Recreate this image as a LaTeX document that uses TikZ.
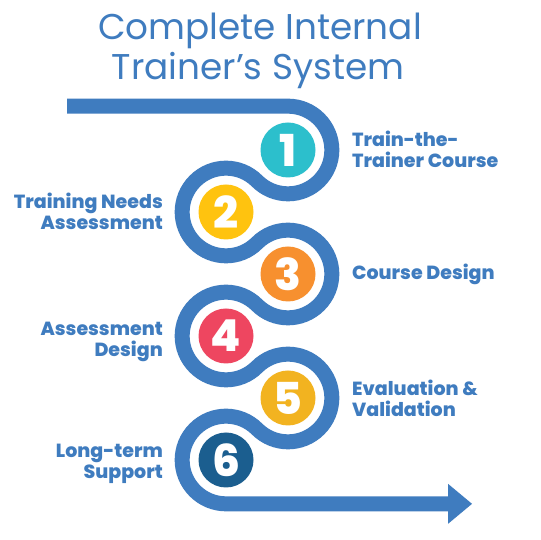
\documentclass[tikz,border=0pt]{standalone}
\usepackage{fontspec}
\setmainfont{Poppins}[BoldFont={Poppins ExtraBold}]
\definecolor{pathblue}{HTML}{3F7CBF}
\definecolor{colA}{HTML}{2CBFCC}
\definecolor{colB}{HTML}{FFC30F}
\definecolor{colC}{HTML}{F7902F}
\definecolor{colD}{HTML}{EE4660}
\definecolor{colE}{HTML}{F2B320}
\definecolor{colF}{HTML}{1B5E8F}
\tikzset{
  numcirc/.style={circle, minimum size=55pt, inner sep=0pt, text=white,
    font=\fontsize{44}{44}\selectfont\bfseries},
  rlabel/.style={anchor=west, align=left, inner sep=0pt, text=pathblue,
    font=\fontsize{19}{21}\selectfont\bfseries},
  llabel/.style={anchor=east, align=right, inner sep=0pt, text=pathblue,
    font=\fontsize{19}{21}\selectfont\bfseries},
  titletext/.style={anchor=base, inner sep=0pt, text=pathblue,
    font=\fontsize{35.8}{40}\selectfont},
  serpent/.style={draw=pathblue, line width=15pt},
}
\begin{document}
\begin{tikzpicture}[x=1pt,y=1pt]
\useasboundingbox (0,0) rectangle (540,540);
\fill[white] (0,0) rectangle (540,540);
% title
\node[titletext] (t1) at (260,500) {Complete Internal};
\node[titletext] (t2) at (258,460) {Trainer’s System};
% serpentine path
\coordinate (pstart) at (67,433.84);
\coordinate (pend) at (450,36.16);
\path[serpent] (pstart) -- (288,433.84)
  arc[start angle=90,end angle=-135,radius=43.84]
  arc[start angle=45,end angle=315,radius=43.84]
  arc[start angle=135,end angle=-135,radius=43.84]
  arc[start angle=45,end angle=315,radius=43.84]
  arc[start angle=135,end angle=-135,radius=43.84]
  arc[start angle=45,end angle=270,radius=43.84]
  -- (pend);
\fill[pathblue] (448,56.16) -- (472,36.16) -- (448,16.16) -- cycle;
% circles
\node[numcirc, fill=colA] (c1) at (288,390) {1};
\node[numcirc, fill=colB] (c2) at (226,328) {2};
\node[numcirc, fill=colC] (c3) at (288,266) {3};
\node[numcirc, fill=colD] (c4) at (226,204) {4};
\node[numcirc, fill=colE] (c5) at (288,142) {5};
\node[numcirc, fill=colF] (c6) at (226,80) {6};
% labels
\node[rlabel] (l1) at (352,390.5) {Train-the-\\Trainer Course};
\node[llabel] (l2) at (163,329) {Training Needs\\Assessment};
\node[rlabel] (l3) at (352,266) {Course Design};
\node[llabel] (l4) at (163,198) {Assessment\\Design};
\node[rlabel] (l5) at (352,142) {Evaluation \&\\Validation};
\node[llabel] (l6) at (163,75.7) {Long-term\\Support};
\end{tikzpicture}
\end{document}
